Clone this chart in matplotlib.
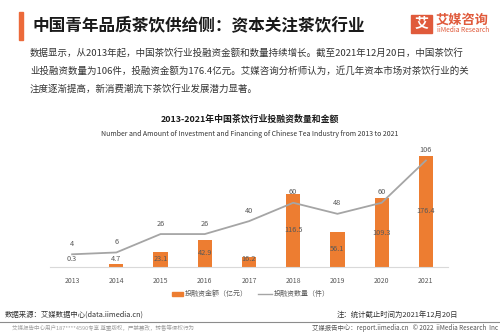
import matplotlib

matplotlib.use("Agg")
import matplotlib.pyplot as plt
from matplotlib.patches import Rectangle
from matplotlib.lines import Line2D

plt.rcParams["font.family"] = ["Noto Sans CJK SC", "DejaVu Sans"]

years = ["2013", "2014", "2015", "2016", "2017", "2018", "2019", "2020", "2021"]
amount = [0.3, 4.7, 23.1, 42.9, 16.2, 116.5, 56.1, 109.3, 176.4]  # 亿元
count = [4, 6, 26, 26, 40, 60, 48, 60, 106]  # 件
legend_labels = ["投融资金额（亿元）", "投融资数量（件）"]

ORANGE = "#ed7d31"
GRAY_LINE = "#a5a5a5"
TXT = "#595959"

W, H = 500, 333
fig = plt.figure(figsize=(5, 3.33), dpi=100)


def fy(py):
    return 1 - py / H


def fx(px):
    return px / W


# header
fig.patches.append(Rectangle((fx(19), fy(40)), 4 / W, 28 / H, transform=fig.transFigure,
                             color="#ec6a3a", zorder=3))
fig.text(fx(32), fy(25), "中国青年品质茶饮供给侧：资本关注茶饮行业", fontsize=12,
         fontweight="bold", color="#1a1a1a", va="center")

# logo
fig.patches.append(Rectangle((fx(411), fy(33)), 21 / W, 18 / H, transform=fig.transFigure,
                             color="#e05a3b", zorder=3))
fig.text(fx(421.5), fy(24), "艾", fontsize=10, fontweight="bold", color="white",
         ha="center", va="center", zorder=4)
fig.text(fx(436), fy(20), "艾媒咨询", fontsize=9.5, fontweight="bold", color="#e05a3b",
         va="center")
fig.text(fx(437), fy(30.5), "iiMedia Research", fontsize=4.8, color="#e05a3b", va="center")

body = [
    "数据显示，从2013年起，中国茶饮行业投融资金额和数量持续增长。截至2021年12月20日，中国茶饮行",
    "业投融资数量为106件，投融资金额为176.4亿元。艾媒咨询分析师认为，近几年资本市场对茶饮行业的关",
    "注度逐渐提高，新消费潮流下茶饮行业发展潜力显著。",
]
for i, line in enumerate(body):
    fig.text(fx(30), fy(53 + 18 * i), line, fontsize=6.8, color="#333333", va="center")

# chart titles
fig.text(0.5, fy(119), "2013-2021年中国茶饮行业投融资数量和金额", fontsize=6.4,
         fontweight="bold", color="#1a1a1a", ha="center", va="center")
fig.text(0.5, fy(134), "Number and Amount of Investment and Financing of Chinese Tea Industry from 2013 to 2021",
         fontsize=5.0, color="#333333", ha="center", va="center")

# chart
ax = fig.add_axes([0.1, fy(267), 0.796, 122 / H])
x = list(range(len(years)))
ax.bar(x, amount, width=0.32, color=ORANGE, zorder=2)
ax.set_xlim(-0.5, len(years) - 0.5)
ax.set_ylim(0, 193.6)
for xi, v in zip(x, amount):
    ax.text(xi, max(v / 2, 12), f"{v}", ha="center", va="center", fontsize=5.3,
            color=TXT, zorder=3)
ax.set_xticks(x, years)
ax.tick_params(axis="x", length=0, pad=7, labelsize=5, labelcolor=TXT)
ax.set_yticks([])
for s in ["top", "right", "left"]:
    ax.spines[s].set_visible(False)
ax.spines["bottom"].set_color("#d9d9d9")
ax.spines["bottom"].set_linewidth(0.8)

ax2 = ax.twinx()
ax2.plot(x, count, color=GRAY_LINE, lw=1.3, zorder=3)
ax2.set_ylim(-9.8, 122.8)
for xi, v in zip(x, count):
    ax2.annotate(f"{v}", (xi, v), xytext=(0, 7.5), textcoords="offset points",
                 ha="center", va="center", fontsize=5.3, color=TXT)
ax2.set_yticks([])
for s in ax2.spines.values():
    s.set_visible(False)
ax.patch.set_visible(False)

# legend, drawn by hand
fig.patches.append(Rectangle((fx(172), fy(296)), 11 / W, 4 / H, transform=fig.transFigure,
                             color=ORANGE))
fig.text(fx(185), fy(294), legend_labels[0], fontsize=5, color=TXT, va="center")
fig.add_artist(Line2D([fx(258), fx(272)], [fy(294), fy(294)], transform=fig.transFigure,
                      color=GRAY_LINE, lw=1.0))
fig.text(fx(274), fy(294), legend_labels[1], fontsize=5, color=TXT, va="center")

# footer
fig.text(fx(5), fy(315), "数据来源：艾媒数据中心(data.iimedia.cn)", fontsize=5.3,
         color="#333333", va="center")
fig.text(fx(458), fy(315), "注：统计截止时间为2021年12月20日", fontsize=5.3,
         color="#333333", va="center", ha="right")
fig.add_artist(Line2D([0, 1], [fy(322), fy(322)], transform=fig.transFigure,
                      color="#8c8c8c", lw=0.8))
fig.text(fx(12), fy(327.5), "艾媒报告中心用户187****4590专享 尊重版权，严禁篡改，转售等侵权行为",
         fontsize=4, color="#a0a0a0", va="center")
fig.text(fx(498), fy(327.5), "艾媒报告中心：report.iimedia.cn   © 2022  iiMedia Research  Inc",
         fontsize=4.6, color="#555555", va="center", ha="right")

fig.savefig("out.png", dpi=100)
